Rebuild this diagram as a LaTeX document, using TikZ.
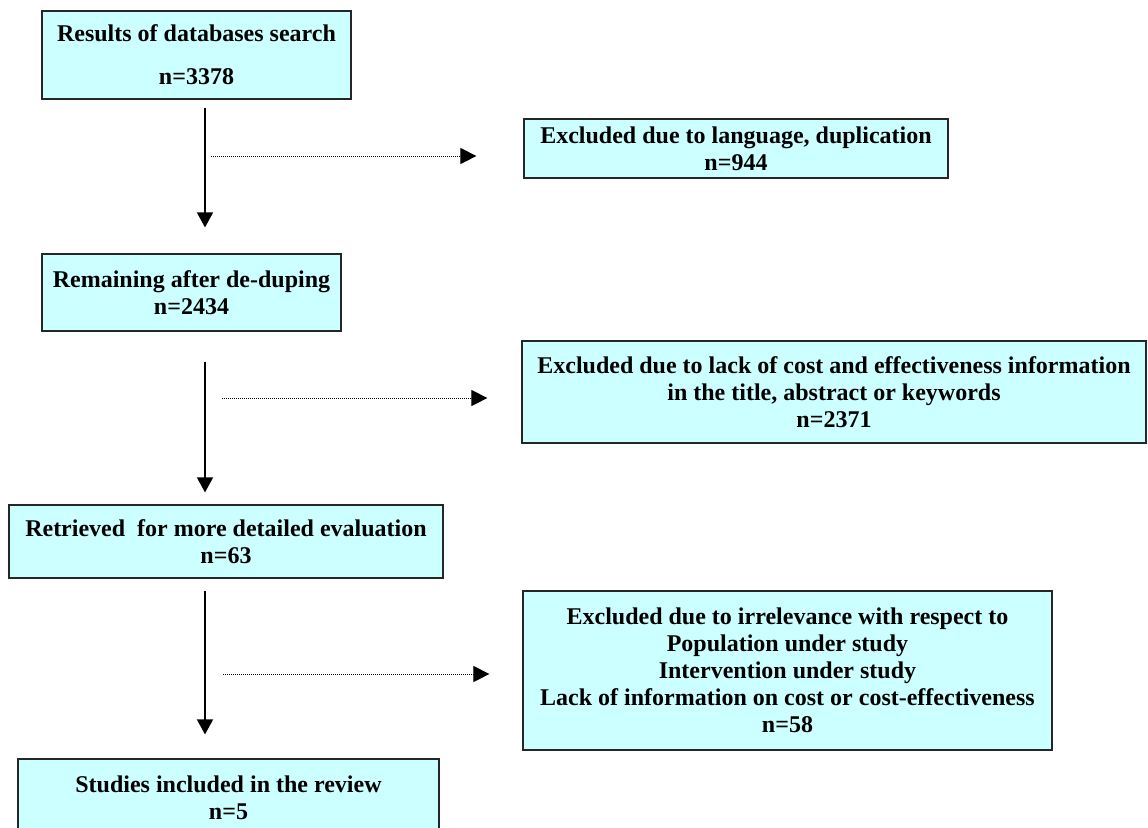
\documentclass[tikz,border=0pt]{standalone}
\usepackage{fontspec}
\setmainfont{Liberation Serif}
\usepackage{tikz}
\usetikzlibrary{arrows.meta}
\definecolor{boxfill}{HTML}{CCFFFF}

\begin{document}
\begin{tikzpicture}[x=0.5pt, y=-0.5pt,
    box/.style={draw=black!85, line width=0.6pt, fill=boxfill, rectangle, align=center, inner sep=1pt, font=\fontsize{12}{13.5}\selectfont\bfseries},
    flow/.style={line width=0.75pt, -{Triangle[width=8pt, length=7.5pt]}},
    skip/.style={line width=0.5pt, dash pattern=on 0.5pt off 0.5pt, -{Triangle[width=8pt, length=8pt]}}]
\clip (0,0) rectangle (1148,827);

% Main column
\node[box, minimum width=154.5pt, minimum height=44pt] (search) at (196.5,55) {
    Results of databases search\\[8pt]
    n=3378
};
\node[box, minimum width=149.5pt, minimum height=38.5pt] (dedup) at (191.5,292.5) {
    Remaining after de-duping\\
    n=2434
};
\node[box, minimum width=217pt, minimum height=36.5pt] (retrieved) at (226,541.5) {
    Retrieved~ for more detailed evaluation\\
    n=63
};
\node[box, minimum width=210.5pt, minimum height=39pt] (included) at (228.5,798) {
    Studies included in the review\\
    n=5
};

% Exclusions
\node[box, minimum width=212pt, minimum height=29.5pt] (language) at (736,148.5) {
    Excluded due to language, duplication\\
    n=944
};
\node[box, minimum width=312pt, minimum height=51pt] (lackinfo) at (834,392) {
    Excluded due to lack of cost and effectiveness information\\
    in the title, abstract or keywords\\
    n=2371
};
\node[box, minimum width=264.5pt, minimum height=79.5pt] (irrelevant) at (787.5,670.5) {
    Excluded due to irrelevance with respect to\\
    Population under study\\
    Intervention under study\\
    Lack of information on cost or cost-effectiveness\\
    n=58
};

% Arrows
\coordinate (spine) at (205,0);
\draw[flow, shorten <=4pt, shorten >=13pt] (search.south -| spine) -- (dedup.north -| spine);
\draw[flow, shorten <=15pt, shorten >=6pt] (dedup.south -| spine) -- (retrieved.north -| spine);
\draw[flow, shorten <=6pt, shorten >=12pt] (retrieved.south -| spine) -- (included.north -| spine);

\coordinate (out1) at (211,156);
\coordinate (out2) at (222,398);
\coordinate (out3) at (223,674);
\draw[skip, shorten >=23.5pt] (out1) -- (language.west |- out1);
\draw[skip, shorten >=17pt] (out2) -- (lackinfo.west |- out2);
\draw[skip, shorten >=16.5pt] (out3) -- (irrelevant.west |- out3);

\end{tikzpicture}
\end{document}
